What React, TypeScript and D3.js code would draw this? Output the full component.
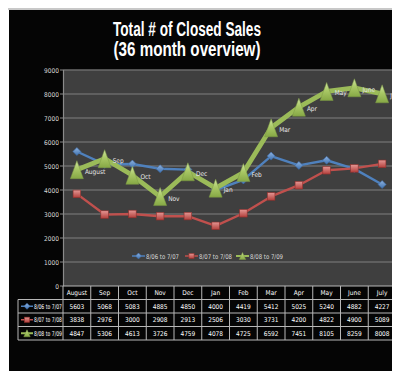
import React from "react";
import * as d3 from "d3";

const months = ["August", "Sep", "Oct", "Nov", "Dec", "Jan", "Feb", "Mar", "Apr", "May", "June", "July"];
const series0607 = [5603, 5068, 5083, 4885, 4850, 4000, 4419, 5412, 5025, 5240, 4882, 4227];
const series0708 = [3838, 2976, 3000, 2908, 2913, 2506, 3030, 3731, 4200, 4822, 4900, 5089];
const series0809 = [4847, 5306, 4613, 3726, 4759, 4078, 4725, 6592, 7451, 8105, 8259, 8008];
const seriesNames = ["8/06 to 7/07", "8/07 to 7/08", "8/08 to 7/09"];
const yTicks = [0, 1000, 2000, 3000, 4000, 5000, 6000, 7000, 8000, 9000];

const FONT = "'DejaVu Sans', sans-serif";
const TITLE_FONT = "'Liberation Sans', Arial, sans-serif";
const BLUE = "#4f81bd";
const RED = "#c0504d";
const GREEN = "#9bbb59";

const W = 400;
const H = 371;
const plot = { left: 55, right: 388, top: 62, bottom: 278 };

const Marker = ({ kind, x, y, big }: { kind: number; x: number; y: number; big?: boolean }) => {
  if (kind === 0) {
    const s = big ? 4 : 3;
    return (
      <path
        d={`M${x},${y - s}L${x + s},${y}L${x},${y + s}L${x - s},${y}Z`}
        fill="url(#gBlue)"
        stroke="#3a6aa8"
        strokeWidth={0.6}
      />
    );
  }
  if (kind === 1) {
    const s = big ? 3.8 : 2.6;
    return <rect x={x - s} y={y - s} width={s * 2} height={s * 2} fill="url(#gRed)" stroke="#8f2f2c" strokeWidth={0.6} />;
  }
  const w = big ? 6.5 : 3.2;
  const h = big ? 9 : 3.5;
  return (
    <path
      d={`M${x},${y - h}L${x + w},${y + h}L${x - w},${y + h}Z`}
      fill="url(#gGreen)"
      stroke="#7d9a45"
      strokeWidth={0.5}
    />
  );
};

const App = () => {
  const x = d3.scaleBand<string>().domain(months).range([plot.left, plot.right]);
  const y = d3.scaleLinear().domain([0, 9000]).range([plot.bottom, plot.top]);
  const cx = (m: string) => (x(m) as number) + x.bandwidth() / 2;

  const line = d3
    .line<number>()
    .x((_, i) => cx(months[i]))
    .y((d) => y(d));

  const all = [series0607, series0708, series0809];
  const colors = [BLUE, RED, GREEN];
  const widths = [2.4, 2.4, 4.8];

  const rowTop = 278;
  const rowH = 13.5;
  const labelLeft = 10;

  return (
    <svg width={W} height={H} style={{ display: "block", fontStretch: "condensed" }} fontFamily={FONT}>
      <defs>
        <linearGradient id="gGreen" x1="0" y1="0" x2="0" y2="1">
          <stop offset="0" stopColor="#d2e6a4" />
          <stop offset="0.45" stopColor="#a9c866" />
          <stop offset="1" stopColor="#86a845" />
        </linearGradient>
        <linearGradient id="gRed" x1="0" y1="0" x2="0" y2="1">
          <stop offset="0" stopColor="#e59794" />
          <stop offset="1" stopColor="#b23f3b" />
        </linearGradient>
        <linearGradient id="gBlue" x1="0" y1="0" x2="0" y2="1">
          <stop offset="0" stopColor="#8fb3e0" />
          <stop offset="1" stopColor="#3f72b0" />
        </linearGradient>
      </defs>
      <rect width={W} height={H} fill="#ffffff" />
      <rect x={1} y={2} width={W - 1} height={364} fill="#050505" />
      <rect x={0} y={0} width={W} height={2} fill="#c8c8c8" />

      <g fontFamily={TITLE_FONT} style={{ fontStretch: "normal" }}>
        <text x={179} y={28} fill="#fff" fontSize={19.5} fontWeight="bold" textAnchor="middle" textLength={148} lengthAdjust="spacingAndGlyphs">
          Total # of Closed Sales
        </text>
        <text x={179} y={48} fill="#fff" fontSize={19.5} fontWeight="bold" textAnchor="middle" textLength={147} lengthAdjust="spacingAndGlyphs">
          (36 month overview)
        </text>
      </g>

      {/* plot area */}
      <rect x={plot.left} y={plot.top} width={plot.right - plot.left} height={plot.bottom - plot.top} fill="#3f3f3f" />
      {yTicks.map((t) => (
        <g key={t}>
          {t > 0 && <line x1={plot.left} x2={plot.right} y1={y(t)} y2={y(t)} stroke="#6b6b6b" strokeWidth={1.6} />}
          <line x1={plot.left - 3} x2={plot.left} y1={y(t)} y2={y(t)} stroke="#8a8a8a" strokeWidth={1} />
          <text x={plot.left - 4} y={y(t) + 2.5} fill="#d8d8d8" fontSize={6.5} textAnchor="end">
            {t}
          </text>
        </g>
      ))}
      <line x1={plot.left + 0.5} x2={plot.left + 0.5} y1={plot.top} y2={plot.bottom} stroke="#8a8a8a" strokeWidth={1.2} />

      {/* legend */}
      {seriesNames.map((n, i) => {
        const lx = [124, 177, 228][i];
        return (
          <g key={n}>
            <line x1={lx} x2={lx + 13} y1={248} y2={248} stroke={colors[i]} strokeWidth={i === 2 ? 2 : 1.5} />
            <Marker kind={i} x={lx + 6.5} y={248} />
            <text x={lx + 14} y={250.5} fill="#d8d8d8" fontSize={6.5} textLength={33} lengthAdjust="spacingAndGlyphs">
              {n}
            </text>
          </g>
        );
      })}

      {/* series */}
      {all.map((s, i) => (
        <path key={i} d={line(s) as string} fill="none" stroke={colors[i]} strokeWidth={widths[i]} strokeLinejoin="round" />
      ))}
      {all.map((s, i) =>
        s.map((v, j) => <Marker key={`${i}-${j}`} kind={i} x={cx(months[j])} y={y(v)} big />)
      )}
      {series0809.map((v, j) => (
        <text key={j} x={cx(months[j]) + 8} y={y(v) + 4} fill="#e6e6e6" fontSize={6.5}>
          {months[j]}
        </text>
      ))}

      {/* data table */}
      <g stroke="#b8b8b8" strokeWidth={1} fill="none">
        <line x1={plot.left} x2={plot.right} y1={rowTop} y2={rowTop} />
        {[1, 2, 3, 4].map((r) => (
          <line key={r} x1={labelLeft} x2={plot.right} y1={rowTop + r * rowH} y2={rowTop + r * rowH} />
        ))}
        <line x1={labelLeft} x2={labelLeft} y1={rowTop + rowH} y2={rowTop + 4 * rowH} />
        {months.map((m) => (
          <line key={m} x1={x(m) as number} x2={x(m) as number} y1={rowTop} y2={rowTop + 4 * rowH} />
        ))}
        <line x1={plot.right} x2={plot.right} y1={rowTop} y2={rowTop + 4 * rowH} />
      </g>
      {months.map((m) => (
        <text key={m} x={cx(m)} y={rowTop + rowH / 2 + 2.5} fill="#fff" fontSize={6.5} textAnchor="middle">
          {m}
        </text>
      ))}
      {all.map((s, i) => {
        const ry = rowTop + (i + 1) * rowH + rowH / 2;
        return (
          <g key={i}>
            <line x1={labelLeft + 3} x2={labelLeft + 15} y1={ry} y2={ry} stroke={colors[i]} strokeWidth={i === 2 ? 2 : 1.5} />
            <Marker kind={i} x={labelLeft + 9} y={ry} />
            <text x={labelLeft + 16} y={ry + 2.5} fill="#fff" fontSize={6.5} textLength={28} lengthAdjust="spacingAndGlyphs">
              {seriesNames[i]}
            </text>
            {s.map((v, j) => (
              <text key={j} x={cx(months[j])} y={ry + 2.5} fill="#fff" fontSize={6.5} textAnchor="middle">
                {v}
              </text>
            ))}
          </g>
        );
      })}
    </svg>
  );
};

export default App;
